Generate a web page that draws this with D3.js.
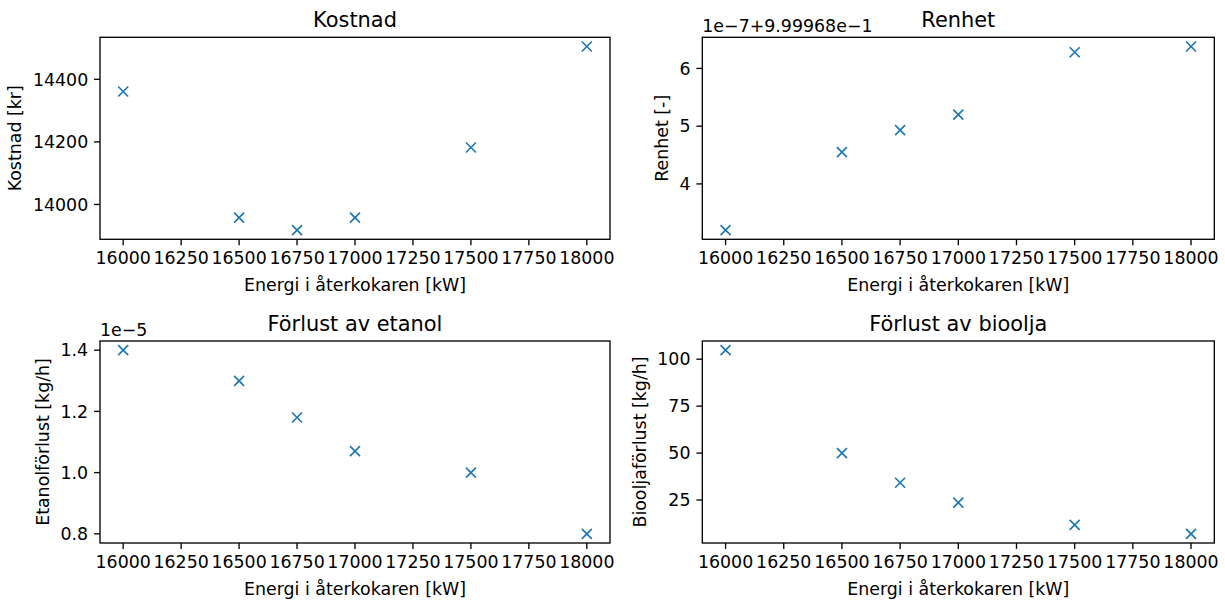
<!DOCTYPE html>
<html>
<head>
<meta charset="utf-8">
<script src="https://cdn.jsdelivr.net/npm/d3@7"></script>
<style>
  html, body { margin: 0; padding: 0; background: #ffffff; }
  svg { display: block; }
  text { font-family: "DejaVu Sans", sans-serif; fill: #000; }
</style>
</head>
<body>
<svg id="fig" width="1225" height="601"></svg>
<script>
// Reboiler duty [kW] shared by all four panels
const energi = [16000, 16500, 16750, 17000, 17500, 18000];

// Panel series
const kostnad = [14361, 13958, 13918, 13958, 14182, 14505];
const renhet = [0.99996832, 0.999968455, 0.999968493, 0.99996852, 0.999968628, 0.999968638];
const etanolforlust = [1.40e-5, 1.30e-5, 1.18e-5, 1.07e-5, 1.00e-5, 0.80e-5];
const bioljaforlust = [104.8, 50.0, 34.2, 23.6, 11.8, 7.0];

// Tick values
const xTicks = [16000, 16250, 16500, 16750, 17000, 17250, 17500, 17750, 18000];
const kostnadTicks = [14000, 14200, 14400];
const renhetTicks = [4, 5, 6];
const etanolTicks = [0.8, 1.0, 1.2, 1.4];
const bioljaTicks = [25, 50, 75, 100];

// Titles and labels
const titles = ["Kostnad", "Renhet", "Förlust av etanol", "Förlust av bioolja"];
const yLabels = ["Kostnad [kr]", "Renhet [-]", "Etanolförlust [kg/h]", "Biooljaförlust [kg/h]"];
const xLabel = "Energi i återkokaren [kW]";
const offsetTexts = [null, "1e\u22127+9.99968e\u22121", "1e\u22125", null];

const svg = d3.select("#fig");
const BLUE = "#1f77b4";
const FS = 17.4;       // tick / label font size
const TFS = 20.9;      // title font size
const TICK = 5.9;      // tick length
const PAD = 5.9;       // tick label pad
const LPAD = 7;        // axis label pad

const boxes = [
  { x0: 100,   x1: 610,    y0: 37.3,  y1: 239.3 },
  { x0: 702.3, x1: 1214.3, y0: 37.3,  y1: 239.3 },
  { x0: 100,   x1: 610,    y0: 341,   y1: 543 },
  { x0: 702.3, x1: 1214.3, y0: 341,   y1: 543 }
];

// Displayed y values (scaled by the offset text where needed)
const panels = [
  { y: kostnad, disp: v => v, ticks: kostnadTicks, fmt: d3.format("d") },
  { y: renhet, disp: v => (v - 0.999968) / 1e-7, ticks: renhetTicks, fmt: d3.format("d") },
  { y: etanolforlust, disp: v => v / 1e-5, ticks: etanolTicks, fmt: d3.format(".1f") },
  { y: bioljaforlust, disp: v => v, ticks: bioljaTicks, fmt: d3.format("d") }
];

function padded(ext) {
  const m = (ext[1] - ext[0]) * 0.05;
  return [ext[0] - m, ext[1] + m];
}

const xDomain = padded(d3.extent(energi));

panels.forEach((p, i) => {
  const b = boxes[i];
  const vals = p.y.map(p.disp);
  const x = d3.scaleLinear().domain(xDomain).range([b.x0, b.x1]);
  const y = d3.scaleLinear().domain(padded(d3.extent(vals))).range([b.y1, b.y0]);

  const g = svg.append("g");

  // x axis ticks
  const xa = g.append("g").attr("transform", `translate(0,${b.y1})`);
  xa.selectAll("line").data(xTicks).join("line")
    .attr("x1", d => x(d)).attr("x2", d => x(d))
    .attr("y1", 0).attr("y2", TICK)
    .attr("stroke", "#000").attr("stroke-width", 1.33);
  xa.selectAll("text").data(xTicks).join("text")
    .attr("x", d => x(d)).attr("y", TICK + PAD + 13.2)
    .attr("text-anchor", "middle").attr("font-size", FS)
    .text(d => d3.format("d")(d));

  // y axis ticks
  const ya = g.append("g").attr("transform", `translate(${b.x0},0)`);
  ya.selectAll("line").data(p.ticks).join("line")
    .attr("x1", -TICK).attr("x2", 0)
    .attr("y1", d => y(d)).attr("y2", d => y(d))
    .attr("stroke", "#000").attr("stroke-width", 1.33);
  const yt = ya.selectAll("text").data(p.ticks).join("text")
    .attr("x", -(TICK + PAD)).attr("y", d => y(d))
    .attr("dy", "0.36em")
    .attr("text-anchor", "end").attr("font-size", FS)
    .text(d => p.fmt(d));

  let minLeft = Infinity;
  yt.each(function () { minLeft = Math.min(minLeft, this.getBBox().x); });
  const labelX = b.x0 + minLeft - LPAD - 4.5;

  // markers
  const pts = energi.map((e, k) => [x(e), y(vals[k])]);
  g.append("g").selectAll("path").data(pts).join("path")
    .attr("d", d => `M${d[0] - 5},${d[1] - 5}L${d[0] + 5},${d[1] + 5}M${d[0] - 5},${d[1] + 5}L${d[0] + 5},${d[1] - 5}`)
    .attr("stroke", BLUE).attr("stroke-width", 1.67).attr("fill", "none");

  // frame
  g.append("rect")
    .attr("x", b.x0).attr("y", b.y0)
    .attr("width", b.x1 - b.x0).attr("height", b.y1 - b.y0)
    .attr("fill", "none").attr("stroke", "#000").attr("stroke-width", 1.33);

  // title
  g.append("text")
    .attr("x", (b.x0 + b.x1) / 2).attr("y", b.y0 - 10)
    .attr("text-anchor", "middle").attr("font-size", TFS)
    .text(titles[i]);

  // x label
  g.append("text")
    .attr("x", (b.x0 + b.x1) / 2).attr("y", b.y1 + 52)
    .attr("text-anchor", "middle").attr("font-size", FS)
    .text(xLabel);

  // y label
  g.append("text")
    .attr("transform", `translate(${labelX},${(b.y0 + b.y1) / 2}) rotate(-90)`)
    .attr("text-anchor", "middle").attr("font-size", FS)
    .text(yLabels[i]);

  // offset text
  if (offsetTexts[i]) {
    g.append("text")
      .attr("x", b.x0).attr("y", b.y0 - 5.5)
      .attr("text-anchor", "start").attr("font-size", FS)
      .text(offsetTexts[i]);
  }
});
</script>
</body>
</html>
